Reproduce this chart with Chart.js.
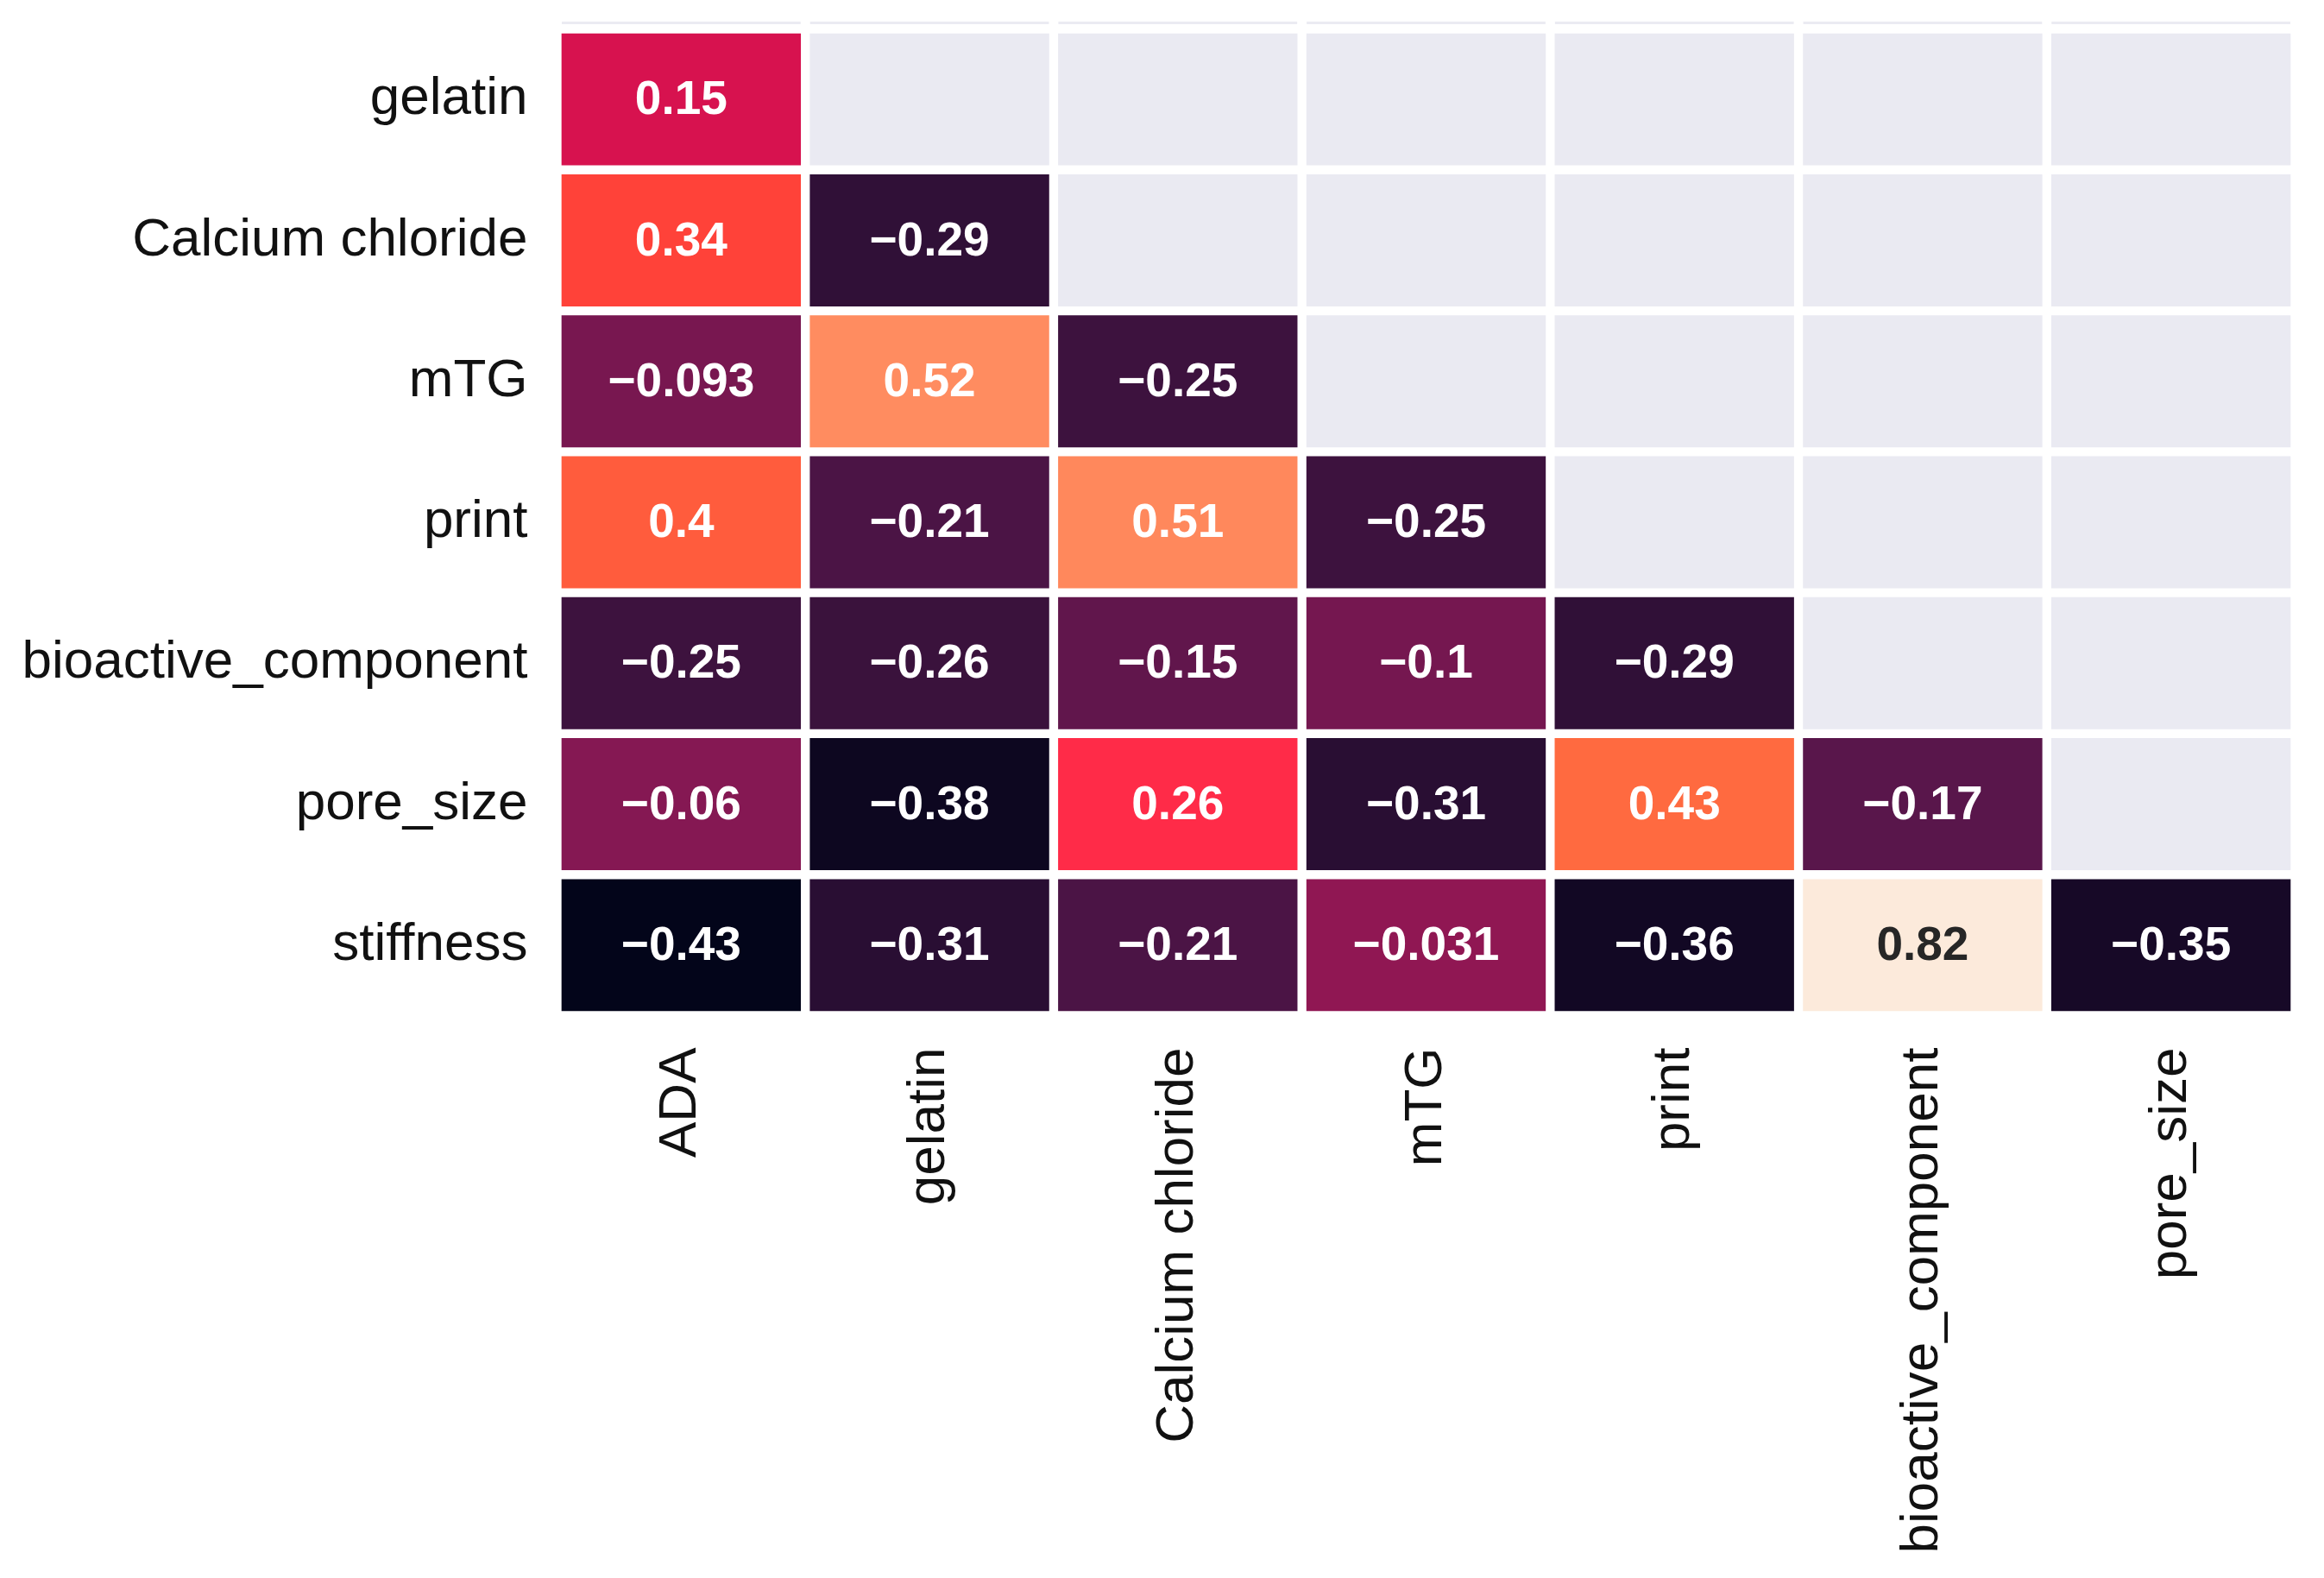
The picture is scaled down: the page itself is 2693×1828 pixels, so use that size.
<!DOCTYPE html>
<html>
<head>
<meta charset="utf-8">
<script src="https://cdn.jsdelivr.net/npm/chart.js@4.4.1/dist/chart.umd.min.js"></script>
<style>
  html, body { margin: 0; padding: 0; background: #fff; }
  #wrap { width: 2693px; height: 1828px; position: relative; }
</style>
</head>
<body>
<div id="wrap"><canvas id="heat"></canvas></div>
<script>
// ── Data ──────────────────────────────────────────────────
const COLUMNS = ['ADA', 'gelatin', 'Calcium chloride', 'mTG', 'print', 'bioactive_component', 'pore_size'];
const ROWS    = ['gelatin', 'Calcium chloride', 'mTG', 'print', 'bioactive_component', 'pore_size', 'stiffness'];

// one array per row, null = masked (upper triangle)
const GELATIN     = [0.15,   null,  null,  null,   null,  null,  null];
const CALCIUM     = [0.34,  -0.29,  null,  null,   null,  null,  null];
const MTG         = [-0.093, 0.52, -0.25,  null,   null,  null,  null];
const PRINT       = [0.4,   -0.21,  0.51, -0.25,   null,  null,  null];
const BIOACTIVE   = [-0.25, -0.26, -0.15, -0.1,   -0.29,  null,  null];
const PORE_SIZE   = [-0.06, -0.38,  0.26, -0.31,   0.43, -0.17,  null];
const STIFFNESS   = [-0.43, -0.31, -0.21, -0.031, -0.36,  0.82, -0.35];
const VALUES = [GELATIN, CALCIUM, MTG, PRINT, BIOACTIVE, PORE_SIZE, STIFFNESS];

// ── Colour map (rocket-like, as seen in the figure) ───────
const COLOR_STOPS = [
  [0.00, '#03051A'], [0.05, '#0F0722'], [0.10, '#2B0F34'], [0.20, '#55164A'],
  [0.30, '#871853'], [0.46, '#D5114F'], [0.55, '#FF2A48'], [0.62, '#FF4338'],
  [0.69, '#FF6B40'], [0.76, '#FF8C60'], [0.88, '#FFB896'], [1.00, '#FCEADB'],
];
const MASK_COLOR = '#EAEAF2';
const FONT = '"Liberation Sans", Arial, Helvetica, sans-serif';

const flat = VALUES.flat().filter(v => v != null);
const VMIN = Math.min(...flat);
const VMAX = Math.max(...flat);

function hexRgb(h) {
  return [1, 3, 5].map(i => parseInt(h.slice(i, i + 2), 16));
}
function cmap(v) {
  const t = Math.max(0, Math.min(1, (v - VMIN) / (VMAX - VMIN)));
  for (let i = 1; i < COLOR_STOPS.length; i++) {
    const [t1, c1] = COLOR_STOPS[i];
    const [t0, c0] = COLOR_STOPS[i - 1];
    if (t <= t1) {
      const f = (t - t0) / (t1 - t0);
      const a = hexRgb(c0), b = hexRgb(c1);
      return a.map((x, k) => Math.round(x + (b[k] - x) * f));
    }
  }
  return hexRgb(COLOR_STOPS[COLOR_STOPS.length - 1][1]);
}
function rgbStr(c) { return `rgb(${c[0]},${c[1]},${c[2]})`; }
function luminance(c) {
  const l = c.map(x => {
    x /= 255;
    return x <= 0.03928 ? x / 12.92 : Math.pow((x + 0.055) / 1.055, 2.4);
  });
  return 0.2126 * l[0] + 0.7152 * l[1] + 0.0722 * l[2];
}
function fmt(v) { return String(v).replace('-', '\u2212'); }

// ── Datasets: one per row, floating bars spanning [r, r+1] ─
const datasets = ROWS.map((row, r) => ({
  label: row,
  data: COLUMNS.map(() => [r, r + 1]),
  backgroundColor: VALUES[r].map(v => v == null ? MASK_COLOR : rgbStr(cmap(v))),
  borderColor: '#ffffff',
  borderWidth: 5.5,
  borderSkipped: false,
  barPercentage: 1,
  categoryPercentage: 1,
  grouped: false,
}));

// ── Plugins ───────────────────────────────────────────────
const topSliver = {
  id: 'topSliver',
  beforeDatasetsDraw(chart) {
    const { ctx, chartArea, scales } = chart;
    const w = chartArea.width / COLUMNS.length;
    ctx.save();
    ctx.fillStyle = '#EBEBF2';
    COLUMNS.forEach((c, i) => {
      const cx = scales.x.getPixelForValue(i);
      ctx.fillRect(cx - w / 2 + 5.5, chartArea.top - 8.5, w - 11, 3);
    });
    ctx.restore();
  },
};

const annotations = {
  id: 'annotations',
  afterDatasetsDraw(chart) {
    const ctx = chart.ctx;
    ctx.save();
    ctx.font = `bold 55px ${FONT}`;
    ctx.textAlign = 'center';
    ctx.textBaseline = 'middle';
    VALUES.forEach((rowVals, r) => {
      const meta = chart.getDatasetMeta(r);
      rowVals.forEach((v, c) => {
        if (v == null) return;
        const { x, y, base } = meta.data[c].getProps(['x', 'y', 'base'], true);
        ctx.fillStyle = luminance(cmap(v)) > 0.5 ? '#262626' : '#ffffff';
        ctx.fillText(fmt(v), x, (y + base) / 2 + 2);
      });
    });
    ctx.restore();
  },
};

// ── Chart ─────────────────────────────────────────────────
new Chart(document.getElementById('heat'), {
  type: 'bar',
  data: { labels: COLUMNS, datasets },
  plugins: [topSliver, annotations],
  options: {
    responsive: true,
    maintainAspectRatio: false,
    devicePixelRatio: 1,
    animation: false,
    layout: { padding: { top: 33.5, right: 33.5, left: 0, bottom: 0 } },
    plugins: { legend: { display: false }, tooltip: { enabled: false } },
    scales: {
      x: {
        type: 'category',
        offset: true,
        grid: { display: false, drawTicks: false },
        border: { display: false },
        ticks: {
          autoSkip: false,
          minRotation: 90,
          maxRotation: 90,
          padding: 37,
          color: '#111111',
          font: { family: FONT, size: 62 },
        },
        afterFit: axis => {
          axis.height = 1828 - 1176.5;
          axis.paddingLeft = 0;
          axis.paddingRight = 0;
        },
      },
      y: {
        type: 'linear',
        min: 0,
        max: ROWS.length,
        reverse: true,
        grid: { display: false, drawTicks: false },
        border: { display: false },
        afterBuildTicks: axis => {
          axis.ticks = ROWS.map((_, i) => ({ value: i + 0.5 }));
        },
        ticks: {
          autoSkip: false,
          padding: 34,
          color: '#111111',
          font: { family: FONT, size: 62 },
          callback: v => ROWS[Math.floor(v)],
        },
        afterFit: axis => {
          axis.width = 645.5;
          axis.paddingTop = 0;
          axis.paddingBottom = 0;
        },
      },
    },
  },
});
</script>
</body>
</html>
